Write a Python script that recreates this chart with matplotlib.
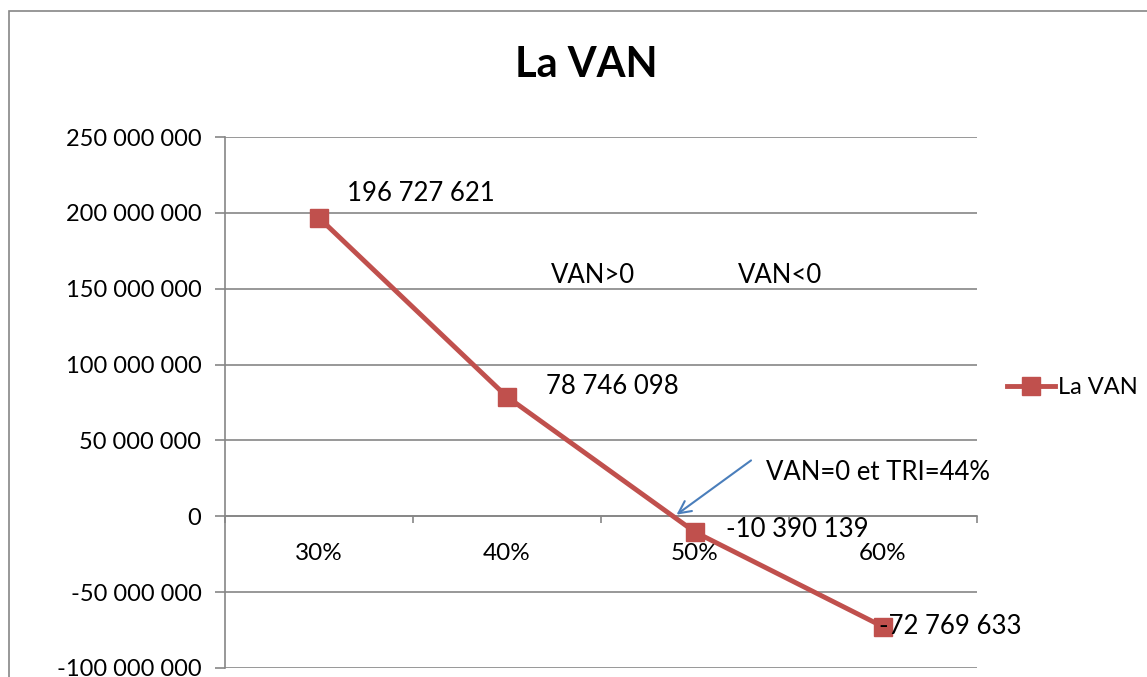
import matplotlib.pyplot as plt
from matplotlib.patches import Rectangle
from matplotlib.ticker import FuncFormatter, FixedLocator

plt.rcParams['font.family'] = ['Lato', 'DejaVu Sans']

# données
taux = ['30%', '40%', '50%', '60%']
van = [196727621, 78746098, -10390139, -72769633]
labels_van = ['196 727 621', '78 746 098', '-10 390 139', '-72 769 633']
label_offsets = [(28, 24), (39, 10), (31, 3), (-4, 0)]  # décalage en pixels

rouge = '#c0504d'
gris = '#868686'

fig = plt.figure(figsize=(11.47, 6.77), dpi=100)
ax = fig.add_axes([225/1147, 1 - 668/677, (977 - 225)/1147, (668 - 137)/677])

# cadre du graphique
fig.patches.append(Rectangle((9/1147, -0.2), 1.2, 1.2 - 12/677 + 0.001,
                             transform=fig.transFigure, fill=False,
                             edgecolor=gris, linewidth=1.2))

x = list(range(len(taux)))
ax.plot(x, van, color=rouge, linewidth=3.5, marker='s', markersize=12.5,
        markerfacecolor=rouge, markeredgecolor=rouge, label='La VAN', zorder=3)

for i, (v, lab) in enumerate(zip(van, labels_van)):
    ax.annotate(lab, (i, v), xytext=label_offsets[i], textcoords='offset pixels',
                ha='left', va='center', fontsize=18.5, color='black', zorder=4)

ax.set_xlim(-0.5, 3.5)
ax.set_ylim(-100000000, 250000000)
ax.set_yticks(range(-100000000, 250000001, 50000000))
ax.yaxis.set_major_formatter(FuncFormatter(lambda v, p: f'{int(v):,}'.replace(',', ' ')))
ax.grid(axis='y', color=gris, linewidth=1.2)
ax.set_axisbelow(True)

ax.set_xticks(x)
ax.set_xticklabels(taux)
ax.xaxis.set_minor_locator(FixedLocator([-0.5, 0.5, 1.5, 2.5, 3.5]))
ax.tick_params(axis='x', which='major', length=0, pad=19, labelsize=17.5)
ax.tick_params(axis='x', which='minor', length=5, direction='out', color=gris, width=1.2)
ax.tick_params(axis='y', length=7, color=gris, width=1.2, pad=10, labelsize=17)

for s in ['top', 'right']:
    ax.spines[s].set_visible(False)
ax.spines['left'].set_color(gris)
ax.spines['left'].set_linewidth(1.2)
ax.spines['bottom'].set_position(('data', 0))
ax.spines['bottom'].set_color(gris)
ax.spines['bottom'].set_linewidth(1.2)

# titre centré sur la zone du graphique
fig.text(586/1147, 1 - 65/677, 'La VAN', ha='center', va='center',
         fontsize=30, fontweight='bold')

# annotations
ax.text(1.46, 159000000, 'VAN>0', ha='center', va='center', fontsize=18.5)
ax.text(2.45, 159000000, 'VAN<0', ha='center', va='center', fontsize=18.5)
ax.text(2.38, 28700000, 'VAN=0 et TRI=44%', ha='left', va='center', fontsize=18.5)
ax.annotate('', xy=(1.89, 0), xytext=(2.31, 37900000),
            arrowprops=dict(arrowstyle='->', color='#4a7ebb', lw=1.5, mutation_scale=22))

ax.legend(loc='center left', bbox_to_anchor=(998/1147, 1 - 388/677),
          bbox_transform=fig.transFigure, frameon=False, fontsize=17,
          handlelength=2.0, handletextpad=0.15, borderaxespad=0)

fig.savefig('out.png', dpi=100)
